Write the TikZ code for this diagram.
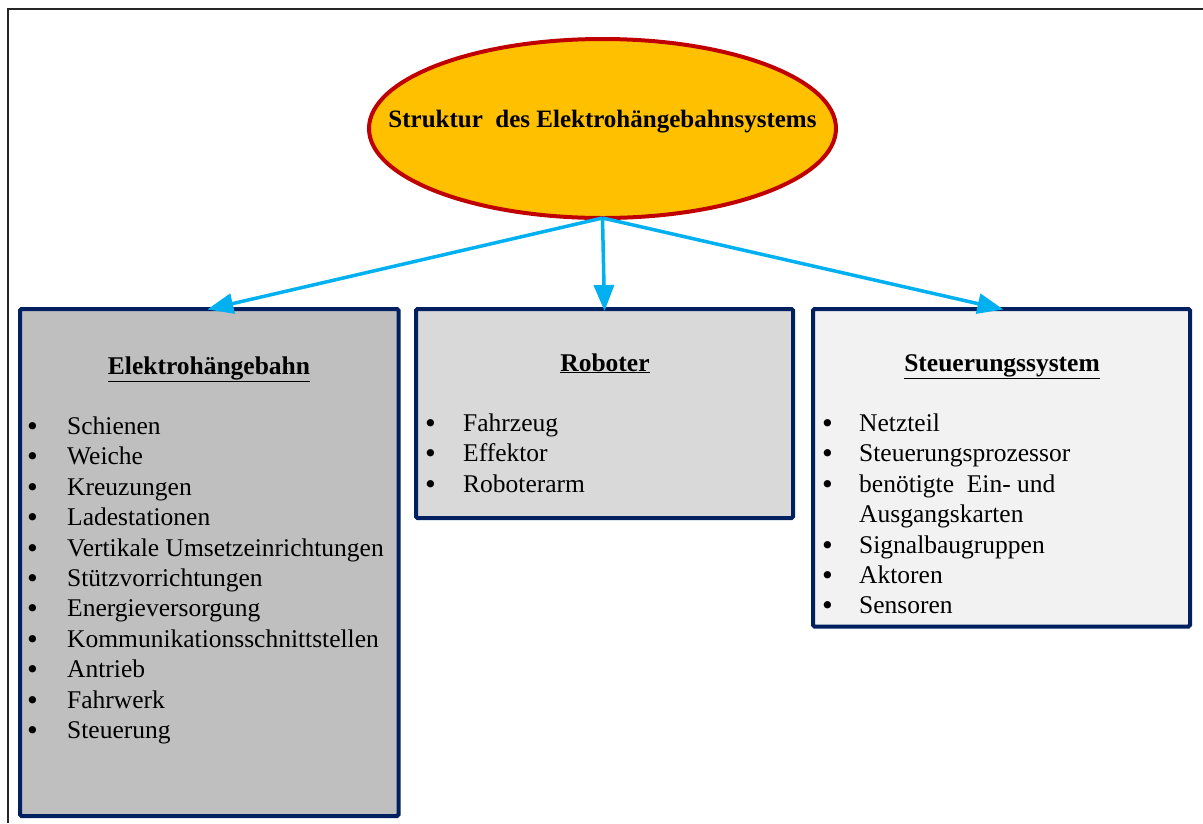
\documentclass[tikz,border=0pt]{standalone}
\usepackage{fontspec}
\setmainfont{Liberation Serif}
\newfontfamily\bulletfont{DejaVu Sans}
\usetikzlibrary{shapes.geometric,arrows.meta}
\definecolor{navyline}{HTML}{002060}
\definecolor{skyarrow}{HTML}{00B0F0}
\definecolor{goldfill}{HTML}{FFC000}
\definecolor{redline}{HTML}{C00000}
\tikzset{
  panel/.style={draw=navyline, line width=4pt, rounded corners=1.5pt, anchor=north west, inner sep=0pt, outer sep=0pt},
  link/.style={draw=skyarrow, line width=3.5pt, -{Triangle[length=26pt,width=20pt]}, shorten >=-2pt},
  item/.style={anchor=base west, inner sep=0pt, font=\fontsize{25.5}{30}\selectfont},
  dot/.style={anchor=base, inner sep=0pt, font=\bulletfont\fontsize{25}{28}\selectfont},
  head/.style={anchor=base, inner sep=0pt, font=\fontsize{25.5}{30}\selectfont\bfseries},
}
\begin{document}
\begin{tikzpicture}[x=1pt,y=-1pt]
\useasboundingbox (0,0) rectangle (1203,823);
\fill[white] (0,0) rectangle (1203,823);
% page frame
\draw[line width=1.5pt, black!85] (8,823) -- (8,9) -- (1203,9);

% top ellipse with its title
\node[ellipse, draw=redline, fill=goldfill, line width=4pt, minimum width=467pt, minimum height=179pt, inner sep=0pt, outer sep=0pt] (root) at (602.5,128.5) {};
\node[anchor=base, inner sep=0pt, font=\fontsize{25}{30}\selectfont\bfseries] (title) at (602.5,127) {Struktur\ \ des Elektrohängebahnsystems};

% three panels
\node[panel, fill=black!25, minimum width=378.5pt, minimum height=507pt] (ehb) at (20,309) {};
\node[panel, fill=black!15, minimum width=377pt, minimum height=209pt] (rob) at (416,309) {};
\node[panel, fill=black!5, minimum width=377pt, minimum height=317.5pt] (ctl) at (813,309) {};

% connectors
\draw[link] (root.south) -- (ehb.north);
\draw[link] (root.south) -- (rob.north);
\draw[link] (root.south) -- (ctl.north);

% headings
\node[head] (h1) at (209,374) {\underline{Elektrohängebahn}};
\node[head] (h2) at (605,371) {\underline{Roboter}};
\node[head] (h3) at (1002,371) {\underline{Steuerungssystem}};

% panel 1 items
\foreach \t [count=\i] in {Schienen, Weiche, Kreuzungen, Ladestationen, Vertikale Umsetzeinrichtungen,
  Stützvorrichtungen, Energieversorgung, Kommunikationsschnittstellen, Antrieb, Fahrwerk, Steuerung}{
  \node[dot] (ba\i) at (32.5,{435.5+30.4*(\i-1)}) {•};
  \node[item] (ta\i) at (67,{434.5+30.4*(\i-1)}) {\t};
}

% panel 2 items
\foreach \t [count=\i] in {Fahrzeug, Effektor, Roboterarm}{
  \node[dot] (bb\i) at (430.5,{432.5+30.4*(\i-1)}) {•};
  \node[item] (tb\i) at (463,{431.5+30.4*(\i-1)}) {\t};
}

% panel 3 items
\foreach \t/\b [count=\i] in {Netzteil/1, Steuerungsprozessor/1, benötigte\ \ Ein- und/1, Ausgangskarten/0,
  Signalbaugruppen/1, Aktoren/1, Sensoren/1}{
  \ifnum\b=1 \node[dot] (bc\i) at (827.5,{432.5+30.4*(\i-1)}) {•};\fi
  \node[item] (tc\i) at (859,{431.5+30.4*(\i-1)}) {\t};
}
\end{tikzpicture}
\end{document}
